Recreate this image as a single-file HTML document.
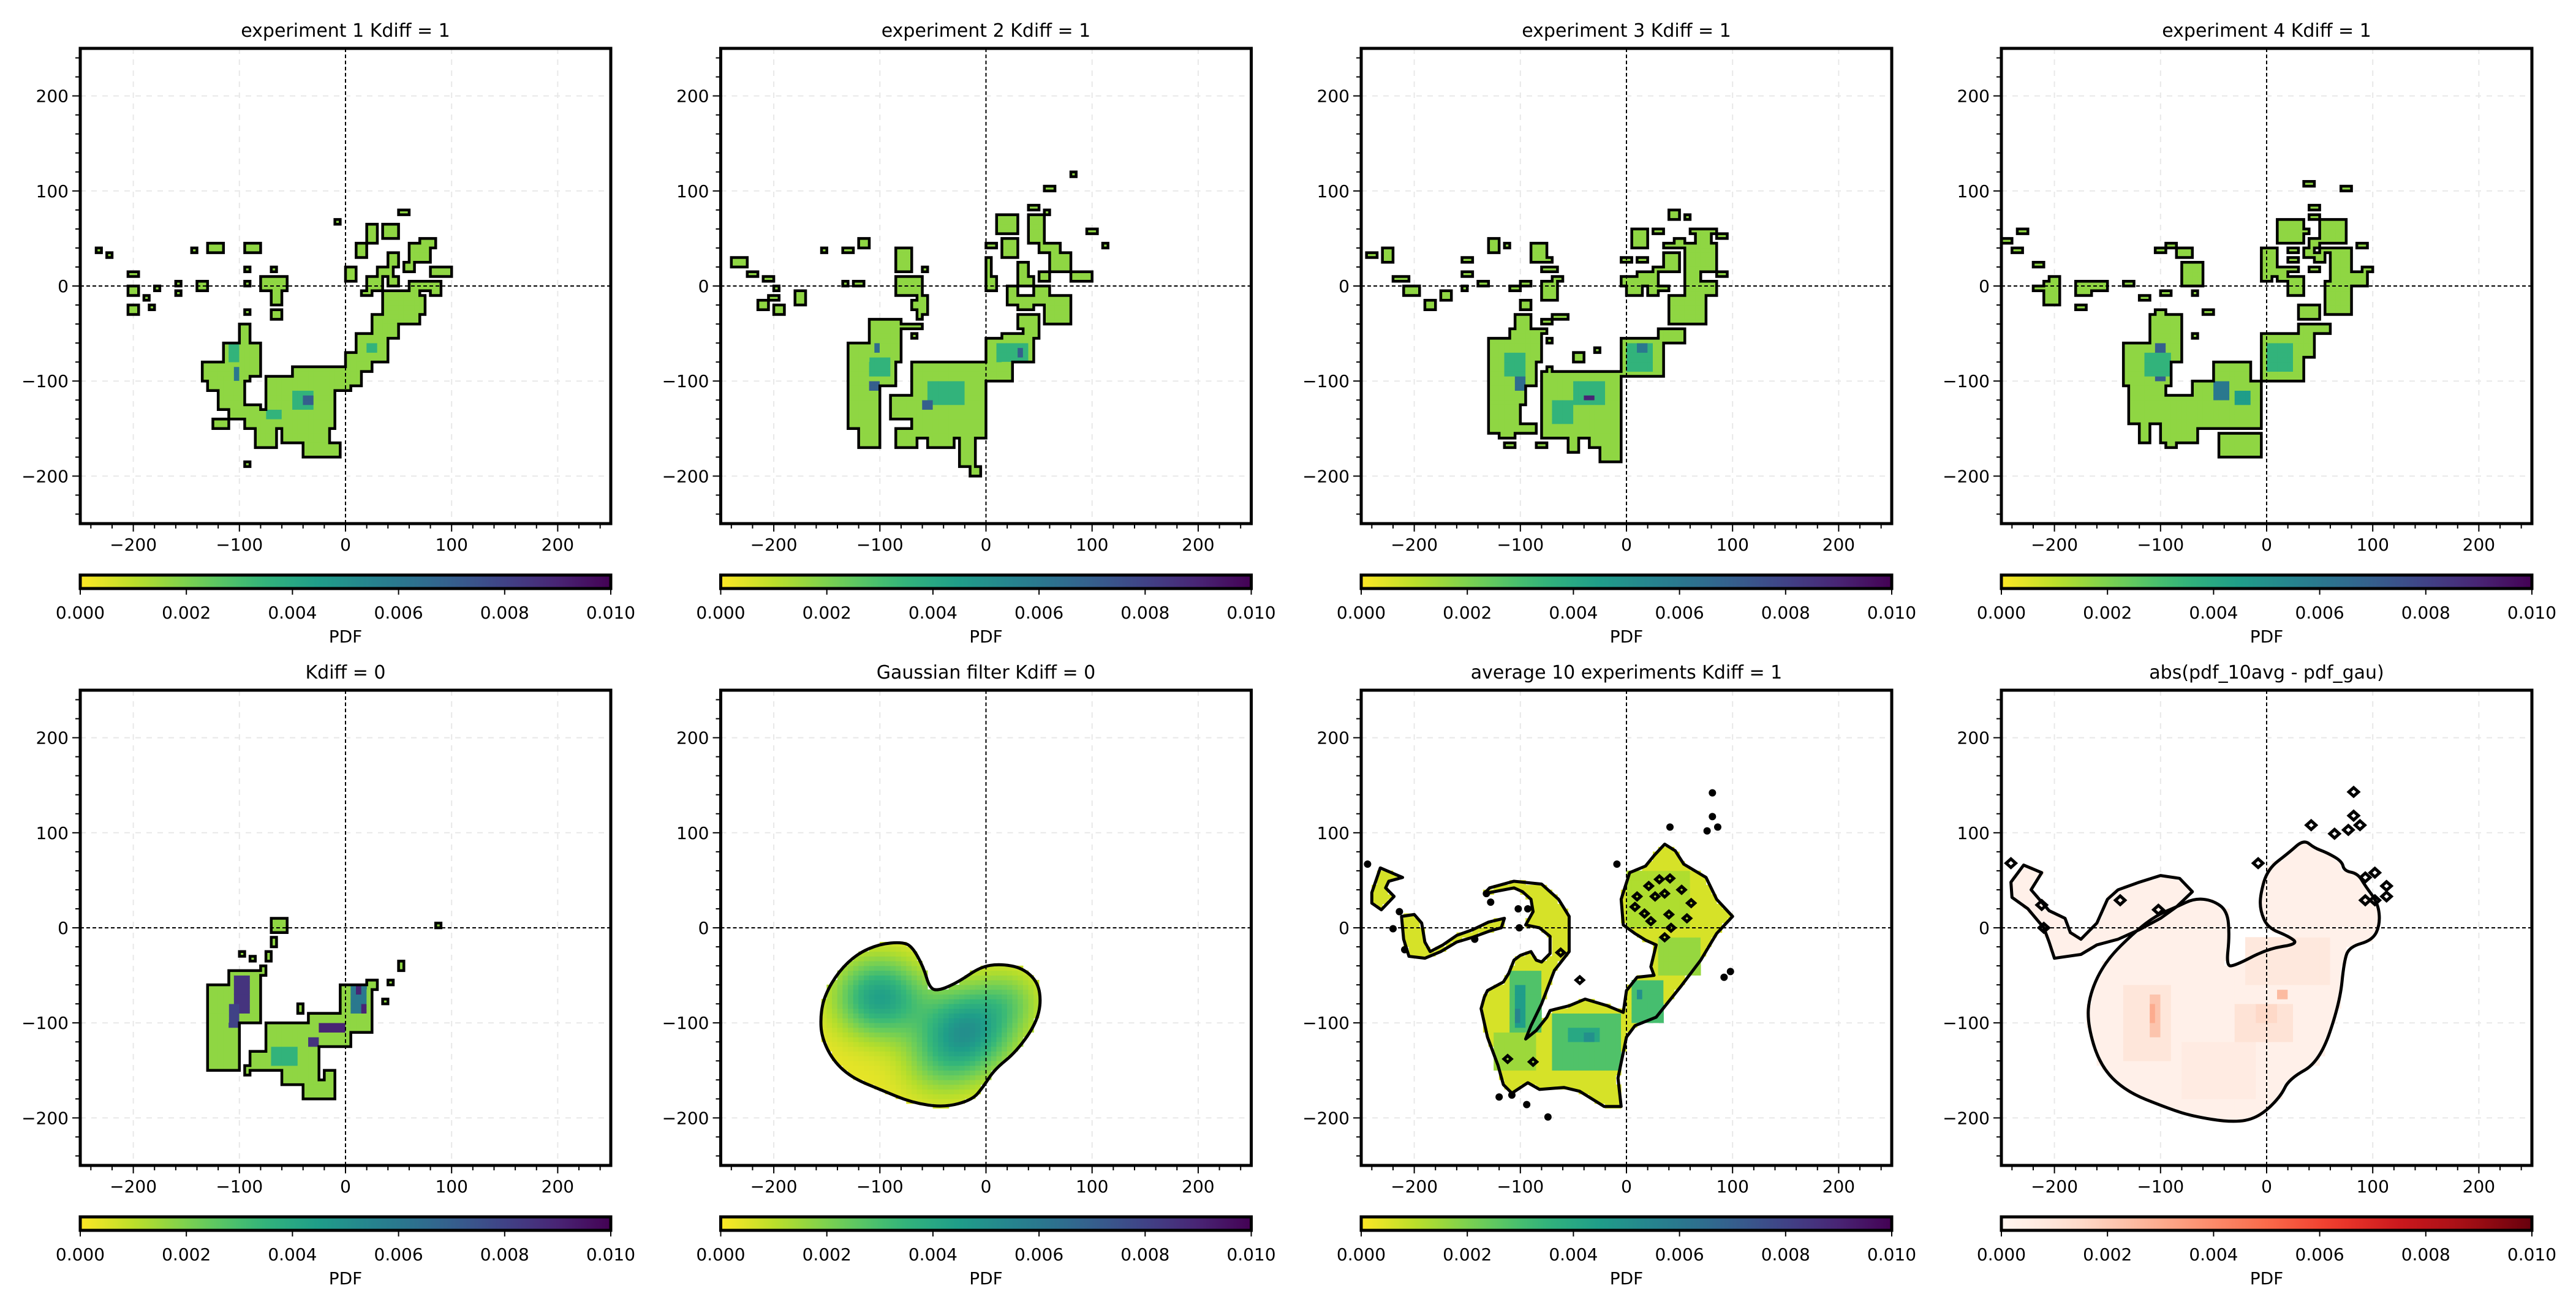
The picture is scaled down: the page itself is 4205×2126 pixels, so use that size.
<!DOCTYPE html>
<html><head><meta charset="utf-8"><title>PDF panels</title>
<style>html,body{margin:0;padding:0;background:#fff}svg{display:block}text{font-family:"DejaVu Sans","Liberation Sans",sans-serif;fill:#000}</style>
</head><body>
<svg id="fig" xmlns="http://www.w3.org/2000/svg" width="4205" height="2126" viewBox="0 0 4205 2126"></svg>
<script>
// ---------------- data ----------------
const titles = ['experiment 1 Kdiff = 1','experiment 2 Kdiff = 1','experiment 3 Kdiff = 1','experiment 4 Kdiff = 1','Kdiff = 0','Gaussian filter Kdiff = 0','average 10 experiments Kdiff = 1','abs(pdf_10avg - pdf_gau)'];
const axisTicks = [-200,-100,0,100,200];
const cbarTicks = [0,0.002,0.004,0.006,0.008,0.010];
const cbarTickLabels = ['0.000','0.002','0.004','0.006','0.008','0.010'];
// patches [x0,x1,y0,y1,value]
const exp1Patches = [
[-236,-228,34,42,.0017],[-226,-218,29,37,.0017],[-204,-196,9,17,.0017],[-206,-194,-9,-1,.0017],[-192,-184,-16,-8,.0017],[-186,-178,-26,-18,.0017],[-204,-194,-29,-21,.0017],[-182,-174,-6,2,.0017],[-162,-154,-1,7,.0017],[-162,-154,-12,-4,.0017],[-146,-138,34,42,.0017],[-142,-132,-4,4,.0017],[-128,-116,36,46,.0017],[-96,-82,36,46,.0017],[-96,-88,14,22,.0017],[-96,-88,-1,7,.0017],[-72,-64,14,22,.0017],[-12,-4,64,72,.0017],[50,58,74,82,.0017],[-96,-88,-32,-24,.0017],[-72,-60,-34,-26,.0017],
[-80,-55,-5,8,.0017],[-72,-60,-20,-5,.0017],
[20,30,45,65,.0017],[35,48,52,65,.0017],[10,22,28,45,.0017],[0,10,5,20,.0017],[20,35,-3,10,.0017],[30,45,10,20,.0017],[40,52,22,35,.0017],[55,65,15,25,.0017],[60,80,25,45,.0017],[70,85,40,50,.0017],[80,100,10,20,.0017],[60,90,-5,5,.0017],[15,25,-12,-4,.0017],[40,50,0,8,.0017],[80,90,-10,0,.0017],
[35,70,-40,-5,.0017],[55,75,-30,-10,.0017],[25,50,-55,-30,.0017],[10,40,-80,-50,.0017],[0,25,-90,-70,.0017],[-10,15,-105,-85,.0017],
[-100,-88,-60,-42,.0017],[-115,-82,-95,-60,.0017],[-135,-90,-100,-80,.0017],[-120,-95,-130,-95,.0017],[-110,-100,-140,-130,.0017],[-130,-120,-110,-100,.0017],
[-75,-10,-150,-95,.0017],[-50,5,-110,-85,.0017],[-95,-75,-150,-130,.0017],[-110,-80,-140,-125,.0017],[-60,-15,-165,-150,.0017],[-40,-5,-180,-165,.0017],[-85,-65,-168,-150,.0017],[-125,-110,-148,-140,.0017],[-96,-88,-192,-184,.0017],
[-110,-98,-80,-60,.0035],[-105,-100,-100,-85,.006],[-50,-30,-130,-110,.0035],[-40,-30,-125,-115,.007],[20,30,-70,-60,.0035],[-75,-60,-140,-130,.0035]];
const exp2Patches = [
[78,86,114,122,.0017],[57,65,99,107,.0017],[42,50,79,87,.0017],[53,61,74,82,.0017],[97,105,54,62,.0017],[108,116,39,47,.0017],
[12,30,55,75,.0017],[38,55,45,75,.0017],[2,10,39,47,.0017],[15,32,32,48,.0017],
[52,70,35,45,.0017],[62,80,15,35,.0017],[31,41,12,26,.0017],[30,45,0,10,.0017],[82,100,3,17,.0017],[50,60,5,15,.0017],
[0,12,-5,10,.0017],[-2,5,10,28,.0017],[20,30,-18,0,.0017],[32,45,-25,-12,.0017],[45,60,-20,0,.0017],
[55,80,-38,-10,.0017],[30,50,-45,-28,.0017],[35,50,-55,-42,.0017],[15,45,-80,-52,.0017],[0,25,-100,-55,.0017],
[-240,-225,18,30,.0017],[-223,-215,9,17,.0017],[-208,-200,4,12,.0017],[-202,-194,-6,2,.0017],[-205,-197,-16,-8,.0017],[-213,-205,-25,-17,.0017],[-200,-192,-28,-20,.0017],[-182,-170,-18,-4,.0017],[-157,-149,33,41,.0017],[-133,-125,33,41,.0017],[-122,-110,38,48,.0017],[-137,-129,-1,7,.0017],[-123,-115,-1,7,.0017],
[-85,-68,15,40,.0017],[-62,-54,14,22,.0017],[-85,-60,-8,10,.0017],[-65,-55,-28,-8,.0017],[-72,-64,-25,-17,.0017],[-67,-59,-37,-29,.0017],[-78,-62,-47,-38,.0017],[-72,-64,-56,-48,.0017],
[-108,-80,-80,-35,.0017],[-130,-85,-105,-60,.0017],[-128,-98,-150,-100,.0017],[-120,-100,-170,-148,.0017],
[-70,-2,-158,-80,.0017],[-90,-65,-142,-115,.0017],[-85,-65,-172,-152,.0017],[-55,-30,-172,-148,.0017],[-25,-8,-188,-155,.0017],[-15,-3,-200,-188,.0017],
[-106,-98,-72,-58,.0065],[-108,-100,-112,-100,.007],[-110,-90,-95,-75,.0035],[-55,-20,-125,-98,.0035],[-58,-50,-128,-118,.007],[10,40,-80,-60,.0035],[30,36,-74,-66,.007]];
const exp3Patches = [
[-243,-235,29,37,.0017],[-230,-218,25,40,.0017],[-218,-205,4,12,.0017],[-208,-195,-12,2,.0017],[-188,-180,-25,-17,.0017],[-173,-165,-15,-7,.0017],[-157,-149,-6,2,.0017],[-153,-145,9,17,.0017],[-153,-145,24,32,.0017],[-138,-130,-1,7,.0017],[-130,-118,35,50,.0017],[-117,-109,39,47,.0017],[-108,-100,-6,2,.0017],[-98,-90,-1,7,.0017],[-88,-75,25,47,.0017],[-77,-69,24,32,.0017],[-82,-65,13,22,.0017],[-68,-60,4,12,.0017],[-82,-65,-15,5,.0017],[-98,-90,-25,-17,.0017],[-68,-55,-36,-28,.0017],[-79,-71,-41,-33,.0017],[-84,-76,-51,-43,.0017],[-77,-69,-61,-53,.0017],[-32,-24,-71,-63,.0017],[-50,-38,-80,-72,.0017],[-77,-69,-91,-83,.0017],[21,29,-96,-88,.0017],
[38,52,68,82,.0017],[53,61,69,77,.0017],[5,22,38,58,.0017],[26,34,54,62,.0017],[58,66,54,62,.0017],[65,78,45,58,.0017],[77,85,54,62,.0017],[87,95,49,57,.0017],[37,45,39,47,.0017],[47,55,40,48,.0017],[55,85,20,45,.0017],[70,85,15,45,.0017],[35,52,15,35,.0017],[27,35,14,22,.0017],[10,30,0,15,.0017],[-3,5,24,32,.0017],[11,19,24,32,.0017],[86,94,9,17,.0017],[55,70,5,20,.0017],[-5,10,0,12,.0017],[0,15,-12,2,.0017],[18,28,-10,5,.0017],[32,40,-6,2,.0017],
[55,85,-12,3,.0017],[40,75,-40,-10,.0017],[30,55,-58,-45,.0017],[-3,35,-95,-55,.0017],
[-105,-90,-45,-30,.0017],[-110,-82,-80,-45,.0017],[-130,-85,-105,-55,.0017],[-132,-95,-125,-80,.0017],[-128,-100,-155,-115,.0017],[-120,-105,-160,-140,.0017],[-114,-106,-172,-164,.0017],[-84,-76,-172,-164,.0017],
[-80,-3,-160,-90,.0017],[-100,-83,-156,-144,.0017],[-56,-44,-175,-155,.0017],[-36,-18,-172,-155,.0017],[-25,-5,-185,-158,.0017],
[-106,-95,-110,-70,.0065],[-103,-98,-82,-76,.009],[-115,-95,-95,-70,.0035],[-52,-20,-125,-100,.0035],[-38,-32,-122,-115,.009],[-70,-52,-145,-120,.0035],[0,25,-90,-60,.0035],[10,18,-70,-62,.006]];
const exp4Patches = [
[-249,-241,44,52,.0017],[-233,-225,54,62,.0017],[-239,-231,33,41,.0017],[-218,-210,19,27,.0017],[-203,-195,4,12,.0017],[-218,-210,-6,2,.0017],[-210,-195,-20,5,.0017],[-204,-196,-22,-14,.0017],[-179,-171,-27,-19,.0017],[-180,-165,-10,5,.0017],[-165,-150,-5,5,.0017],[-133,-125,-1,7,.0017],[-119,-111,-16,-8,.0017],[-98,-90,-12,-4,.0017],[-103,-95,-31,-23,.0017],[-58,-50,-31,-23,.0017],[-103,-95,33,41,.0017],[-93,-85,39,47,.0017],[-84,-68,28,42,.0017],[-78,-62,-2,25,.0017],[-71,-63,-12,-4,.0017],[-72,-64,-56,-48,.0017],
[37,45,103,111,.0017],[72,80,99,107,.0017],[42,50,79,87,.0017],[41,49,69,77,.0017],[10,35,45,70,.0017],[32,40,54,62,.0017],[48,75,45,68,.0017],[40,48,42,50,.0017],[51,59,33,41,.0017],[62,82,15,38,.0017],[86,94,39,47,.0017],[-5,10,20,40,.0017],[-5,20,10,22,.0017],[22,30,33,41,.0017],[22,30,24,32,.0017],[22,30,14,22,.0017],[36,44,30,38,.0017],[46,54,25,33,.0017],[41,49,14,22,.0017],[91,99,14,22,.0017],[-4,4,4,12,.0017],[11,19,4,12,.0017],[20,35,-10,8,.0017],[53,61,-1,7,.0017],[62,80,0,15,.0017],[80,95,0,15,.0017],
[55,80,-30,3,.0017],[30,50,-35,-18,.0017],[28,58,-52,-38,.0017],[36,46,-75,-52,.0017],[-3,35,-98,-48,.0017],
[-112,-80,-80,-32,.0017],[-133,-88,-105,-62,.0017],[-130,-97,-145,-103,.0017],[-122,-108,-163,-143,.0017],
[-70,-3,-150,-100,.0017],[-50,-15,-100,-78,.0017],[-98,-65,-165,-115,.0017],[-45,-5,-182,-155,.0017],[-94,-86,-172,-164,.0017],
[-107,-97,-100,-62,.007],[-115,-90,-95,-70,.0035],[-50,-33,-118,-98,.006],[-30,-15,-125,-110,.0045],[2,12,-72,-62,.007],[0,25,-90,-60,.0035]];
const k0Patches = [
[84,92,-2,6,.0017],[-72,-55,-5,10,.0017],[-72,-64,-18,-10,.0017],[-76,-68,-33,-25,.0017],[-101,-93,-32,-24,.0017],[-91,-83,-37,-29,.0017],[-81,-73,-48,-40,.0017],[48,56,-43,-35,.0017],[39,47,-62,-54,.0017],[20,30,-66,-56,.0017],[33,41,-82,-74,.0017],[-47,-39,-89,-81,.0017],[-97,-89,-153,-145,.0017],
[-108,-80,-100,-45,.0017],[-130,-100,-150,-62,.0017],[-120,-103,-152,-133,.0017],
[-90,-55,-150,-130,.0017],[-75,-25,-150,-100,.0017],[-60,-25,-165,-145,.0017],[-40,-10,-178,-160,.0017],[-20,-10,-160,-150,.0017],
[-35,3,-125,-92,.0017],[-3,25,-108,-58,.0017],
[-104,-92,-90,-52,.0085],[-108,-100,-103,-80,.008],[-27,0,-112,-98,.009],[5,22,-90,-62,.006],[8,14,-68,-62,.009],[14,18,-88,-82,.009],[-36,-26,-126,-115,.0085],[-70,-45,-145,-125,.0035]];
// gaussian filter panel: mixture components and contour
const gaussX = [-100,-18,21,-44];
const gaussY = [-73,-108,-75,-145];
const gaussAmp = [0.0040,0.0044,0.0014,0.0012];
const gaussSig = [28,30,22,25];
const gaussBase = 0.0003;
const gaussContour = [[-80,-15],[-70,-19],[-59,-41],[-53,-64],[-44,-66],[-26,-57],[-5,-41],[13,-38],[34,-42],[49,-57],[52,-80],[46,-103],[28,-131],[8,-149],[-3,-168],[-13,-181],[-39,-189],[-70,-184],[-100,-170],[-126,-158],[-144,-140],[-155,-115],[-156,-92],[-152,-71],[-139,-46],[-121,-27],[-100,-17]];
// average panel
const avgMain = [[-134,-73],[-137,-85],[-131,-115],[-121,-145],[-116,-165],[-108,-174],[-93,-163],[-82,-170],[-59,-168],[-44,-172],[-21,-188],[-5,-188],[-8,-158],[0,-115],[8,-103],[28,-94],[51,-62],[70,-34],[85,-6],[100,12],[85,30],[75,53],[54,67],[46,81],[36,88],[26,76],[18,65],[3,58],[-5,30],[-3,3],[8,-6],[18,-13],[28,-18],[23,-41],[26,-50],[10,-52],[0,-66],[-3,-89],[-18,-82],[-39,-75],[-54,-82],[-72,-87],[-75,-94],[-85,-108],[-95,-117],[-90,-103],[-80,-80],[-68,-45],[-54,-25],[-54,-11],[-54,12],[-64,30],[-80,46],[-106,49],[-129,42],[-134,36],[-106,42],[-98,38],[-90,30],[-88,17],[-95,3],[-82,0],[-72,-9],[-72,-27],[-80,-36],[-85,-34],[-90,-25],[-100,-29],[-106,-34],[-111,-48],[-116,-57],[-131,-66]];
const avgTailA = [[-240,37],[-232,63],[-211,53],[-224,49],[-227,42],[-219,33],[-231,19],[-240,26]];
const avgTailB = [[-212,12],[-200,14],[-193,5],[-190,-15],[-185,-25],[-173,-18],[-160,-8],[-145,-2],[-130,6],[-115,10],[-118,0],[-128,-3],[-145,-10],[-160,-15],[-175,-25],[-190,-32],[-205,-30],[-210,-12]];
const avgHoles = [[31,51],[41,52],[21,44],[27,33],[10,33],[8,22],[17,15],[23,7],[40,14],[57,10],[61,26],[52,40],[36,36],[42,0],[36,-10],[-62,-26],[-44,-55],[-88,-141],[-112,-138]];
const avgDots = [[81,142],[81,117],[86,106],[76,102],[41,106],[-9,67],[-244,67],[-214,17],[-220,-1],[-132,36],[-128,27],[-102,20],[-93,20],[-101,0],[-143,-12],[-209,-23],[-108,-176],[-94,-186],[-120,-178],[-74,-199],[92,-52],[98,-46]];
const avgPatches = [[-111,-82,-110,-46,.0028],[-103,-95,-103,-62,.0045],[-107,-100,-100,-85,.0055],[-70,-5,-149,-92,.0028],[-54,-23,-121,-103,.004],[-40,-30,-118,-108,.005],[5,33,-98,-57,.003],[10,15,-73,-64,.005],[30,70,-50,-10,.0016],[0,60,0,60,.0012],[-125,-85,-150,-110,.0015]];
const avgBase = 0.0006;
// abs difference panel
const absMain = [[1,-22],[30,-17],[21,-9],[1,0],[-6,18],[-6,35],[1,62],[21,79],[35,93],[45,84],[57,79],[71,70],[73,60],[86,57],[93,44],[105,26],[107,4],[100,-13],[78,-20],[73,-35],[69,-79],[50,-141],[21,-159],[13,-178],[-8,-200],[-32,-205],[-71,-198],[-95,-189],[-133,-172],[-157,-145],[-169,-101],[-167,-70],[-152,-35],[-124,-4],[-104,13],[-85,22],[-68,31],[-51,29],[-37,18],[-35,-9],[-38,-40],[-30,-40]];
const absTail = [[-241,48],[-229,66],[-212,58],[-222,40],[-205,18],[-190,10],[-185,-5],[-175,-12],[-160,5],[-150,30],[-140,40],[-120,48],[-100,55],[-82,52],[-70,38],[-85,22],[-100,10],[-120,-2],[-140,-12],[-160,-18],[-175,-28],[-200,-32],[-205,-15],[-210,0],[-225,20],[-240,32]];
const absDiamonds = [[82,143],[82,118],[88,108],[77,103],[42,108],[64,99],[-8,68],[-241,68],[-212,24],[-210,0],[-138,29],[-102,19],[93,53],[102,58],[113,44],[113,33],[102,29],[93,29]];
const absPatches = [[-135,-90,-140,-60,.0009],[-80,-10,-180,-120,.0006],[-20,60,-60,-10,.0008],[-30,25,-120,-80,.0011],[-10,10,-100,-80,.0015],[-110,-100,-115,-70,.0022],[-112,-105,-100,-80,.003],[10,18,-75,-65,.0025]];
const absBase = 0.0003;

// ---------------- layout ----------------
const SVGNS='http://www.w3.org/2000/svg';
const fig=document.getElementById('fig');
const COLS=[131,1176.5,2222,3267], ROWS=[79,1127], W=866, H=776;
const VIR=['#440154','#482878','#3e4989','#31688e','#26828e','#1f9e89','#35b779','#6ece58','#b5de2b','#fde725'];
const REDS=['#fff5f0','#fee0d2','#fcbba1','#fc9272','#fb6a4a','#ef3b2c','#cb181d','#a50f15','#67000d'];
function hx(h){return [parseInt(h.substr(1,2),16),parseInt(h.substr(3,2),16),parseInt(h.substr(5,2),16)];}
function cmap(stops,t){t=Math.max(0,Math.min(1,t));const n=stops.length-1;const i=Math.min(n-1,Math.floor(t*n));const f=t*n-i;const a=hx(stops[i]),b=hx(stops[i+1]);return 'rgb('+a.map((v,k)=>Math.round(v+(b[k]-v)*f)).join(',')+')';}
const virR=v=>cmap(VIR,1-v/0.01), reds=v=>cmap(REDS,v/0.01);
function el(tag,attrs,parent){const e=document.createElementNS(SVGNS,tag);for(const k in attrs)e.setAttribute(k,attrs[k]);(parent||fig).appendChild(e);return e;}
function inPoly(x,y,P){let c=false;for(let i=0,j=P.length-1;i<P.length;j=i++){const [xi,yi]=P[i],[xj,yj]=P[j];if(((yi>y)!==(yj>y))&&(x<(xj-xi)*(y-yi)/(yj-yi)+xi))c=!c;}return c;}

function panel(idx){
  const L=COLS[idx%4], T=ROWS[Math.floor(idx/4)];
  const sx=x=>L+(x+250)/500*W, sy=y=>T+(250-y)/500*H;
  const g=el('g',{});
  
  
  const cid='clip'+idx;
  const cp=el('clipPath',{id:cid},g);el('rect',{x:L,y:T,width:W,height:H},cp);
  const grid=el('g',{},g);
  [-200,-100,100,200].forEach(v=>{
    el('line',{x1:sx(v),x2:sx(v),y1:T,y2:T+H,stroke:'#e8e8e8','stroke-width':2,'stroke-dasharray':'9,9'},grid);
    el('line',{x1:L,x2:L+W,y1:sy(v),y2:sy(v),stroke:'#e8e8e8','stroke-width':2,'stroke-dasharray':'9,9'},grid);
  });
  const data=el('g',{'clip-path':'url(#'+cid+')'},g);
  
  const cw=5*W/500, ch=5*H/500;
  function drawCells(map,colorFn){
    map.forEach((v,k)=>{const ix=Math.floor(k/1000), iy=k%1000;
      const r=el('rect',{x:sx(-250+5*ix)-0.3,y:sy(-250+5*iy+5)-0.3,width:cw+0.6,height:ch+0.6,fill:colorFn(v)},data);
      });
  }
  function paint(map,patches){patches.forEach(p=>{const x0=Math.min(p[0],p[1]),x1=Math.max(p[0],p[1]),y0=Math.min(p[2],p[3]),y1=Math.max(p[2],p[3]);
    let a=Math.round((x0+250)/5),b=Math.round((x1+250)/5)-1;if(b<a)b=a;let c=Math.round((y0+250)/5),d=Math.round((y1+250)/5)-1;if(d<c)d=c;
    for(let i=a;i<=b;i++)for(let j=c;j<=d;j++)map.set(i*1000+j,p[4]);});}
  function edges(map){let d='';map.forEach((v,k)=>{const ix=Math.floor(k/1000),iy=k%1000;const x0=sx(-250+5*ix),x1=sx(-245+5*ix),yb=sy(-250+5*iy),yt=sy(-245+5*iy);
    if(!map.has((ix-1)*1000+iy))d+=`M${x0} ${yb}L${x0} ${yt}`;if(!map.has((ix+1)*1000+iy))d+=`M${x1} ${yb}L${x1} ${yt}`;
    if(!map.has(ix*1000+iy+1))d+=`M${x0} ${yt}L${x1} ${yt}`;if(!map.has(ix*1000+iy-1))d+=`M${x0} ${yb}L${x1} ${yb}`;});
    const p=el('path',{d:d,fill:'none',stroke:'#000','stroke-width':4.5,'stroke-linecap':'square'},data);}
  function polyFill(map,polys,valFn){for(let i=0;i<100;i++)for(let j=0;j<100;j++){const cx=-247.5+5*i,cy=-247.5+5*j;if(polys.some(P=>inPoly(cx,cy,P)))map.set(i*1000+j,valFn(cx,cy));}}
  function smooth(P){const m=(a,b)=>[(sx(a[0])+sx(b[0]))/2,(sy(a[1])+sy(b[1]))/2];const n=P.length;let s=m(P[n-1],P[0]);let d=`M${s[0]} ${s[1]}`;for(let i=0;i<n;i++){const q=m(P[i],P[(i+1)%n]);d+=`Q${sx(P[i][0])} ${sy(P[i][1])} ${q[0]} ${q[1]}`;}return d+'Z';}
  function straight(P){return 'M'+P.map(p=>sx(p[0])+' '+sy(p[1])).join('L')+'Z';}
  function contourPath(d){const p=el('path',{d:d,fill:'none',stroke:'#000','stroke-width':5,'stroke-linejoin':'round'},data);}
  function diamond(x,y,r){const d=`M${sx(x-r)} ${sy(y)}L${sx(x)} ${sy(y+r)}L${sx(x+r)} ${sy(y)}L${sx(x)} ${sy(y-r)}Z`;const p=el('path',{d:d,fill:'none',stroke:'#000','stroke-width':5},data);}
  const expSets=[exp1Patches,exp2Patches,exp3Patches,exp4Patches];
  if(idx<=4){const map=new Map();paint(map,idx<4?expSets[idx]:k0Patches);drawCells(map,virR);edges(map);}
  else if(idx===5){const map=new Map();polyFill(map,[gaussContour],(x,y)=>{let s=gaussBase;for(let k=0;k<gaussX.length;k++){const dx=x-gaussX[k],dy=y-gaussY[k];s+=gaussAmp[k]*Math.exp(-(dx*dx+dy*dy)/(2*gaussSig[k]*gaussSig[k]));}return s;});drawCells(map,virR);contourPath(smooth(gaussContour));}
  else if(idx===6){const map=new Map();polyFill(map,[avgMain,avgTailA,avgTailB],()=>avgBase);paint(map,avgPatches);drawCells(map,virR);
    [avgMain,avgTailA,avgTailB].forEach(P=>contourPath(straight(P)));avgHoles.forEach(h=>diamond(h[0],h[1],3.5));
    avgDots.forEach(p=>{const c=el('circle',{cx:sx(p[0]),cy:sy(p[1]),r:6,fill:'#000'},data);});}
  else {const map=new Map();polyFill(map,[absMain,absTail],()=>absBase);paint(map,absPatches);
    drawCells(map,reds);contourPath(smooth(absMain));contourPath(straight(absTail));absDiamonds.forEach(p=>diamond(p[0],p[1],4.5));}
  el('line',{x1:sx(0),x2:sx(0),y1:T,y2:T+H,stroke:'#000','stroke-width':2,'stroke-dasharray':'6,4'},g);
  el('line',{x1:L,x2:L+W,y1:sy(0),y2:sy(0),stroke:'#000','stroke-width':2,'stroke-dasharray':'6,4'},g);
  const fr=el('rect',{x:L,y:T,width:W,height:H,fill:'none',stroke:'#000','stroke-width':5},g);
  for(let v=-240;v<=240;v+=20){const maj=v%100===0;const len=maj?11:6;
    el('line',{x1:sx(v),x2:sx(v),y1:T+H+2,y2:T+H+2+len,stroke:'#000','stroke-width':2},g);
    el('line',{x1:L-2,x2:L-2-len,y1:sy(v),y2:sy(v),stroke:'#000','stroke-width':2},g);}
  axisTicks.forEach(v=>{const lab=v<0?'\u2212'+(-v):String(v);
    const tx=el('text',{x:sx(v),y:T+H+44,'font-size':28,'text-anchor':'middle'},g);tx.textContent=lab;
    const ty=el('text',{x:L-19,y:sy(v)+10,'font-size':28,'text-anchor':'end'},g);ty.textContent=lab;});
  const tt=el('text',{x:L+W/2,y:T-19,'font-size':30,'text-anchor':'middle'},g);tt.textContent=titles[idx];
  const cbT=T+H+84, cbH=22;
  const gid='grad'+idx;const lg=el('linearGradient',{id:gid,x1:0,x2:1,y1:0,y2:0},g);
  for(let k=0;k<=20;k++){el('stop',{offset:k/20,'stop-color':idx===7?reds(k/20*0.01):virR(k/20*0.01)},lg);}
  const cb=el('rect',{x:L,y:cbT,width:W,height:cbH,fill:'url(#'+gid+')',stroke:'#000','stroke-width':5},g);
  cbarTicks.forEach((v,k)=>{const x=L+v/0.01*W;el('line',{x1:x,x2:x,y1:cbT+cbH+2,y2:cbT+cbH+10,stroke:'#000','stroke-width':2},g);
    const t=el('text',{x:x,y:cbT+cbH+49,'font-size':28,'text-anchor':'middle'},g);t.textContent=cbarTickLabels[k];});
  const pl=el('text',{x:L+W/2,y:cbT+cbH+88,'font-size':28,'text-anchor':'middle'},g);pl.textContent='PDF';
}
for(let i=0;i<8;i++)panel(i);
</script>
</body></html>
